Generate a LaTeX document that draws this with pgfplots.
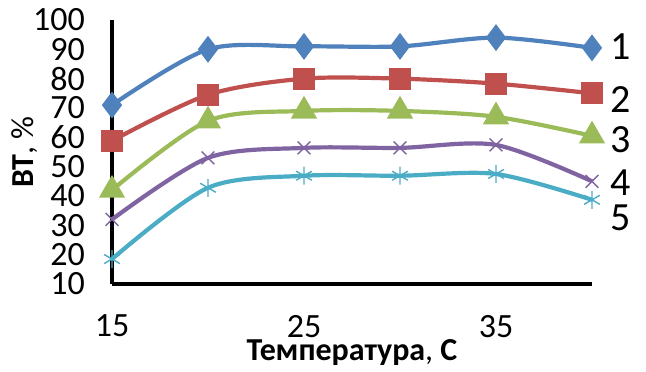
\documentclass[border=0pt]{standalone}
\usepackage{pgfplots}
\pgfplotsset{compat=1.18}
\usepackage{fontspec}
\setmainfont{Carlito}
\definecolor{c1}{HTML}{4F81BD}
\definecolor{c2}{HTML}{C0504D}
\definecolor{c3}{HTML}{9BBB59}
\definecolor{c4}{HTML}{8064A2}
\definecolor{c5}{HTML}{4BACC6}
\begin{document}
\begin{tikzpicture}
\begin{axis}[
  scale only axis, width=240pt, height=132pt,
  xmin=15, xmax=40, ymin=10, ymax=100,
  axis lines=left, axis line style={line width=1.6pt, -},
  xtick={15,25,35}, ytick={10,20,...,100},
  major tick length=0pt,
  clip=false,
  tick label style={font=\fontsize{17}{19}\selectfont},
  /pgf/number format/assume math mode=true,
  xticklabel style={yshift=-12pt},
  yticklabel style={xshift=-10pt},
  xlabel={\textbf{Температура}, \textbf{С}},
  ylabel={\textbf{ВТ}, \%},
  label style={font=\fontsize{16}{18}\selectfont},
  xlabel style={yshift=6pt},
  ylabel style={yshift=-9pt},
  every axis plot/.append style={line width=2.1pt, smooth},
]
\addplot[c1, mark=diamond*, mark size=5pt, mark options={fill=c1}] coordinates {(15,71) (20,90) (25,91) (30,91) (35,94) (40,90.5)};
\addplot[c2, mark=square*, mark size=4.5pt, mark options={fill=c2}] coordinates {(15,58.8) (20,74.5) (25,80) (30,80) (35,78.3) (40,75)};
\addplot[c3, mark=triangle*, mark size=5.5pt, mark options={fill=c3}] coordinates {(15,42) (20,65.6) (25,69) (30,69) (35,67) (40,60.5)};
\addplot[c4, mark=x, mark size=4.5pt, mark options={line width=0.7pt}] coordinates {(15,32) (20,53) (25,56.4) (30,56.4) (35,57.4) (40,45)};
\addplot[c5, mark=asterisk, mark size=4.5pt, mark options={line width=0.7pt}] coordinates {(15,18.5) (20,42.8) (25,46.9) (30,46.9) (35,47.5) (40,38.7)};
\node[font=\fontsize{20}{22}\selectfont] at (axis cs:41.5,90.9) {1};
\node[font=\fontsize{20}{22}\selectfont] at (axis cs:41.5,72.8) {2};
\node[font=\fontsize{20}{22}\selectfont] at (axis cs:41.5,59.1) {3};
\node[font=\fontsize{20}{22}\selectfont] at (axis cs:41.5,44.4) {4};
\node[font=\fontsize{20}{22}\selectfont] at (axis cs:41.5,32.5) {5};
\path (axis cs:15,10) ++(-56pt,-41.5pt) coordinate (bbA);
\path (axis cs:40,100) ++(27pt,10pt) coordinate (bbB);
\path (bbA) rectangle (bbB);
\end{axis}
\end{tikzpicture}
\end{document}
